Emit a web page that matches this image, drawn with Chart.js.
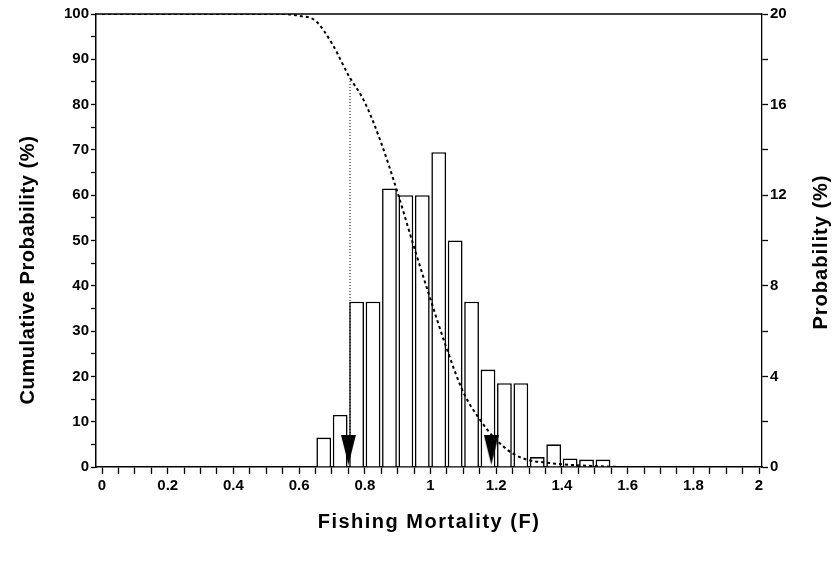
<!DOCTYPE html>
<html><head><meta charset="utf-8">
<script src="https://cdn.jsdelivr.net/npm/chart.js@4.4.1/dist/chart.umd.min.js"></script>
<style>html,body{margin:0;padding:0;background:#fff;} canvas{display:block;}</style>
</head><body>
<canvas id="c" width="840" height="561" style="width:840px;height:561px"></canvas>
<script>
// ---- data ----
const binCenters = [0.675,0.725,0.775,0.825,0.875,0.925,0.975,1.025,1.075,1.125,1.175,1.225,1.275,1.325,1.375,1.425,1.475,1.525];
const probability = [1.3,2.3,7.3,7.3,12.3,12.0,12.0,13.9,10.0,7.3,4.3,3.7,3.7,0.44,1.0,0.38,0.33,0.33];
const cumF =    [0,  0.55,0.6, 0.65,0.7, 0.75,0.8, 0.85,0.9, 0.95,1.0,1.05,1.1, 1.15,1.2,1.25,1.3,1.35,1.4,1.5,1.6,2.0];
const cumProb = [100,100, 99.6,98.5,93.5,86.5,80.5,71.5,60.5,48.5,37, 26,  16.5,10.5,6,  3,   1.5,1,   0.6,0.2,0,  0];
const arrowF = [0.75, 1.185];
const arrowLevel = [3.8, 3.8];
const refLineF = [0.755, 0.755];
const refLineLevel = [7.5, 86];
const xLabelValues = [0,0.2,0.4,0.6,0.8,1,1.2,1.4,1.6,1.8,2];
const xTickLabels = ['0','0.2','0.4','0.6','0.8','1','1.2','1.4','1.6','1.8','2'];
const leftLabelValues = [0,10,20,30,40,50,60,70,80,90,100];
const rightLabelValues = [0,4,8,12,16,20];
const xTitle = 'Fishing Mortality (F)';
const leftTitle = 'Cumulative Probability (%)';
const rightTitle = 'Probability (%)';

const FONT = "'Liberation Sans', Arial, Helvetica, sans-serif";

// arrow marker (downward pointing filled triangle)
const arrowImg = document.createElement('canvas');
arrowImg.width = 15; arrowImg.height = 30;
(function(){
  const g = arrowImg.getContext('2d');
  g.fillStyle = '#000';
  g.beginPath(); g.moveTo(0,0); g.lineTo(15,0); g.lineTo(7.5,30); g.closePath(); g.fill();
})();

const minorX = [];
for (let i = 0; i <= 40; i++) minorX.push(i * 0.05);
const minorLeft = [];
for (let i = 0; i <= 20; i++) minorLeft.push(i * 5);
const minorRight = [];
for (let i = 0; i <= 10; i++) minorRight.push(i * 2);

const frame = {
  id: 'frame',
  afterDraw(chart) {
    const {ctx, chartArea: a} = chart;
    ctx.save();
    ctx.strokeStyle = '#000';
    ctx.lineWidth = 1.5;
    ctx.beginPath();
    ctx.moveTo(a.left, a.top); ctx.lineTo(a.right, a.top);
    ctx.stroke();
    // axis titles
    ctx.fillStyle = '#000';
    ctx.font = 'bold 20px ' + FONT;
    ctx.textAlign = 'center';
    ctx.textBaseline = 'middle';
    try { ctx.letterSpacing = '1.5px'; } catch (e) {}
    ctx.fillText(xTitle, (a.left + a.right) / 2, 522);
    try { ctx.letterSpacing = '0.6px'; } catch (e) {}
    ctx.save();
    ctx.translate(28, 270);
    ctx.rotate(-Math.PI / 2);
    ctx.fillText(leftTitle, 0, 0);
    ctx.restore();
    try { ctx.letterSpacing = '1px'; } catch (e) {}
    ctx.save();
    ctx.translate(821, 252);
    ctx.rotate(-Math.PI / 2);
    ctx.fillText(rightTitle, 0, 0);
    ctx.restore();
    ctx.restore();
  }
};

function labelFor(v, vals, labels) {
  for (let i = 0; i < vals.length; i++) if (Math.abs(v - vals[i]) < 1e-6) return labels ? labels[i] : String(vals[i]);
  return '';
}

new Chart(document.getElementById('c'), {
  type: 'bar',
  data: {
    datasets: [
      {
        type: 'line',
        label: 'cumulative',
        data: cumF.map((f, i) => ({x: f, y: cumProb[i]})),
        yAxisID: 'y',
        borderColor: '#000',
        borderWidth: 2,
        borderDash: [3, 3],
        pointRadius: 0,
        cubicInterpolationMode: 'monotone',
        fill: false,
        order: 0
      },
      {
        type: 'line',
        label: 'ref',
        data: refLineF.map((f, i) => ({x: f, y: refLineLevel[i]})),
        yAxisID: 'y',
        borderColor: '#000',
        borderWidth: 1,
        borderDash: [1, 2],
        pointRadius: 0,
        fill: false,
        order: 1
      },
      {
        type: 'scatter',
        label: 'arrows',
        data: arrowF.map((f, i) => ({x: f, y: arrowLevel[i]})),
        yAxisID: 'y',
        pointStyle: arrowImg,
        pointRadius: 8,
        order: -1
      },
      {
        type: 'bar',
        label: 'probability',
        data: binCenters.map((f, i) => ({x: f, y: probability[i]})),
        yAxisID: 'y2',
        backgroundColor: '#fff',
        borderColor: '#000',
        borderWidth: 1.6,
        barPercentage: 0.9,
        categoryPercentage: 1.0,
        order: 5
      }
    ]
  },
  options: {
    responsive: false,
    devicePixelRatio: 1,
    animation: false,
    layout: {padding: {top: 14, left: 0, right: 0, bottom: 0}},
    plugins: {legend: {display: false}, tooltip: {enabled: false}},
    scales: {
      x: {
        type: 'linear',
        min: -0.0183, max: 2.0091,
        offset: false,
        afterBuildTicks: s => { s.ticks = minorX.map(v => ({value: v})); },
        afterFit: s => { s.height = 94; },
        ticks: {
          autoSkip: false, maxRotation: 0, color: '#000', padding: 3,
          font: {family: FONT, size: 15, weight: 'bold'},
          callback: v => labelFor(v, xLabelValues, xTickLabels)
        },
        grid: {display: true, drawOnChartArea: false, drawTicks: true, tickLength: 7, tickColor: '#000', tickWidth: 1.3, offset: false},
        border: {display: true, color: '#000', width: 1.5}
      },
      y: {
        type: 'linear', position: 'left', min: 0, max: 100,
        afterBuildTicks: s => { s.ticks = minorLeft.map(v => ({value: v})); },
        afterFit: s => { s.width = 96; },
        ticks: {
          autoSkip: false, color: '#000', padding: 2,
          font: {family: FONT, size: 15, weight: 'bold'},
          callback: v => labelFor(v, leftLabelValues)
        },
        grid: {display: true, drawOnChartArea: false, drawTicks: true, tickLength: 5, tickColor: '#000', tickWidth: 1.3},
        border: {display: true, color: '#000', width: 1.5}
      },
      y2: {
        type: 'linear', position: 'right', min: 0, max: 20,
        afterBuildTicks: s => { s.ticks = minorRight.map(v => ({value: v})); },
        afterFit: s => { s.width = 78; },
        ticks: {
          autoSkip: false, color: '#000', padding: 2,
          font: {family: FONT, size: 15, weight: 'bold'},
          callback: v => labelFor(v, rightLabelValues)
        },
        grid: {display: true, drawOnChartArea: false, drawTicks: true, tickLength: 6, tickColor: '#000', tickWidth: 1.3},
        border: {display: true, color: '#000', width: 1.3, dash: [6, 3]}
      }
    }
  },
  plugins: [frame]
});
</script>
</body></html>
